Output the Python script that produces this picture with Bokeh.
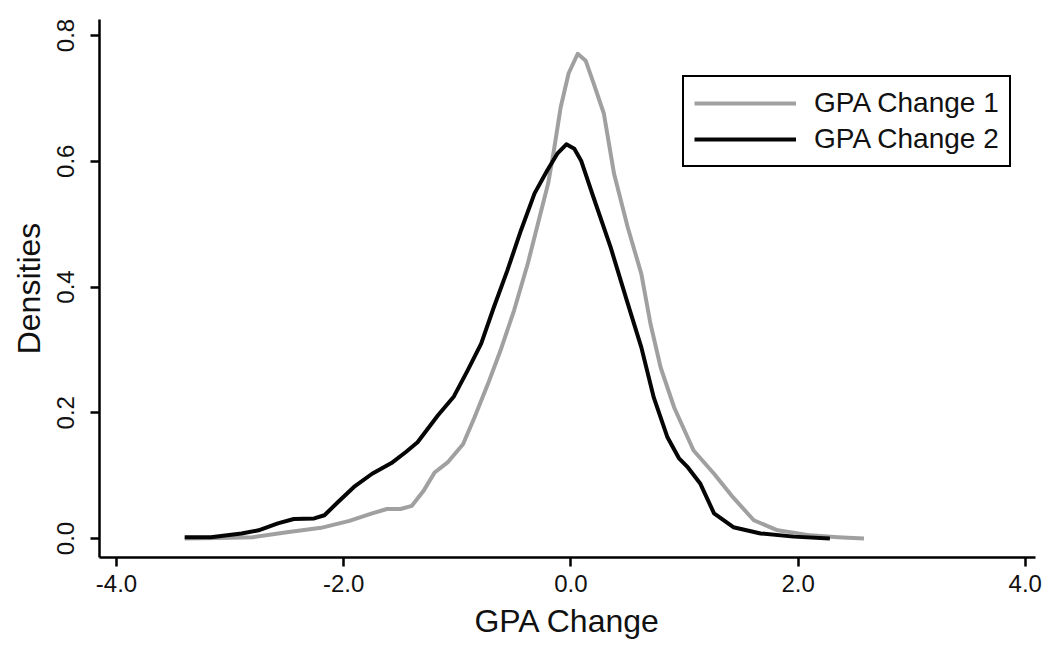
from bokeh.plotting import figure
from bokeh.models import Range1d, FixedTicker, Legend, LegendItem
from bokeh.embed import file_html
from bokeh.resources import INLINE

# GPA Change 1 (gray)
x1 = [-3.40, -3.10, -2.80, -2.50, -2.20, -1.95, -1.75, -1.62, -1.50, -1.40, -1.30, -1.20,
      -1.08, -0.95, -0.85, -0.73, -0.62, -0.50, -0.38, -0.29, -0.20, -0.15, -0.09, -0.02,
      0.06, 0.13, 0.20, 0.29, 0.38, 0.50, 0.62, 0.70, 0.79, 0.91, 1.08, 1.26, 1.43, 1.61,
      1.82, 2.11, 2.35, 2.58]
y1 = [0.000, 0.001, 0.002, 0.010, 0.017, 0.028, 0.040, 0.047, 0.047, 0.052, 0.075, 0.105,
      0.122, 0.150, 0.192, 0.246, 0.299, 0.363, 0.437, 0.501, 0.565, 0.617, 0.686, 0.740,
      0.771, 0.760, 0.724, 0.676, 0.580, 0.495, 0.421, 0.342, 0.272, 0.208, 0.140, 0.103,
      0.065, 0.029, 0.013, 0.005, 0.002, 0.000]

# GPA Change 2 (black)
x2 = [-3.40, -3.17, -2.90, -2.75, -2.58, -2.44, -2.26, -2.17, -2.05, -1.91, -1.75, -1.58,
      -1.45, -1.35, -1.17, -1.03, -0.91, -0.79, -0.68, -0.56, -0.44, -0.32, -0.21, -0.12,
      -0.04, 0.03, 0.09, 0.20, 0.35, 0.50, 0.62, 0.73, 0.85, 0.95, 1.03, 1.14, 1.26, 1.43,
      1.67, 1.96, 2.28]
y2 = [0.002, 0.002, 0.008, 0.013, 0.024, 0.031, 0.032, 0.037, 0.058, 0.082, 0.103, 0.120,
      0.138, 0.153, 0.196, 0.226, 0.267, 0.310, 0.367, 0.426, 0.490, 0.549, 0.585, 0.612,
      0.627, 0.620, 0.601, 0.542, 0.463, 0.374, 0.304, 0.224, 0.161, 0.128, 0.113, 0.087,
      0.040, 0.018, 0.008, 0.003, 0.000]

series_names = ["GPA Change 1", "GPA Change 2"]
x_ticks = [-4.0, -2.0, 0.0, 2.0, 4.0]
x_tick_labels = ["-4.0", "-2.0", "0.0", "2.0", "4.0"]
y_ticks = [0.0, 0.2, 0.4, 0.6, 0.8]
y_tick_labels = ["0.0", "0.2", "0.4", "0.6", "0.8"]

FONT = "Liberation Sans"

p = figure(width=1043, height=648, frame_width=936, frame_height=538,
           output_backend="svg", toolbar_location=None,
           x_range=Range1d(-4.15, 4.09), y_range=Range1d(-0.0302, 0.8255),
           min_border_left=99, min_border_right=8, min_border_top=19, min_border_bottom=91)
p.outline_line_color = None
p.xgrid.grid_line_color = None
p.ygrid.grid_line_color = None
p.background_fill_color = "white"
p.border_fill_color = "white"

r1 = p.line(x1, y1, line_color="#a0a0a0", line_width=4, line_join="round")
r2 = p.line(x2, y2, line_color="#050505", line_width=4, line_join="round")

for ax in (p.xaxis[0], p.yaxis[0]):
    ax.axis_line_width = 2.5
    ax.axis_line_color = "black"
    ax.major_tick_line_width = 2.5
    ax.major_tick_line_color = "black"
    ax.major_tick_in = 0
    ax.major_tick_out = 9
    ax.minor_tick_line_color = None
    ax.major_label_text_font = FONT
    ax.major_label_text_font_size = "24px"
    ax.major_label_text_color = "#111111"
    ax.axis_label_text_font = FONT
    ax.axis_label_text_font_size = "32px"
    ax.axis_label_text_font_style = "normal"
    ax.axis_label_text_color = "#111111"

p.xaxis[0].ticker = FixedTicker(ticks=x_ticks)
p.xaxis[0].major_label_overrides = {t: l for t, l in zip(x_ticks, x_tick_labels)}
p.xaxis[0].axis_label = "GPA Change"
p.xaxis[0].major_label_standoff = 8
p.xaxis[0].axis_label_standoff = 8

p.yaxis[0].ticker = FixedTicker(ticks=y_ticks)
p.yaxis[0].major_label_overrides = {t: l for t, l in zip(y_ticks, y_tick_labels)}
p.yaxis[0].axis_label = "Densities"
p.yaxis[0].major_label_orientation = "vertical"
p.yaxis[0].major_label_standoff = 16
p.yaxis[0].axis_label_standoff = 8

legend = Legend(items=[LegendItem(label=series_names[0], renderers=[r1]),
                       LegendItem(label=series_names[1], renderers=[r2])],
                location=(583, 390))
legend.label_text_font = FONT
legend.label_text_font_size = "28px"
legend.label_text_color = "#111111"
legend.glyph_width = 102
legend.glyph_height = 30
legend.label_height = 30
legend.label_standoff = 18
legend.spacing = 4
legend.padding = 10
legend.margin = 0
legend.border_line_color = "black"
legend.border_line_width = 2.5
legend.border_line_alpha = 1.0
legend.background_fill_color = "white"
legend.background_fill_alpha = 1.0
p.add_layout(legend, "center")

open("out.html", "w").write(file_html(p, INLINE))
